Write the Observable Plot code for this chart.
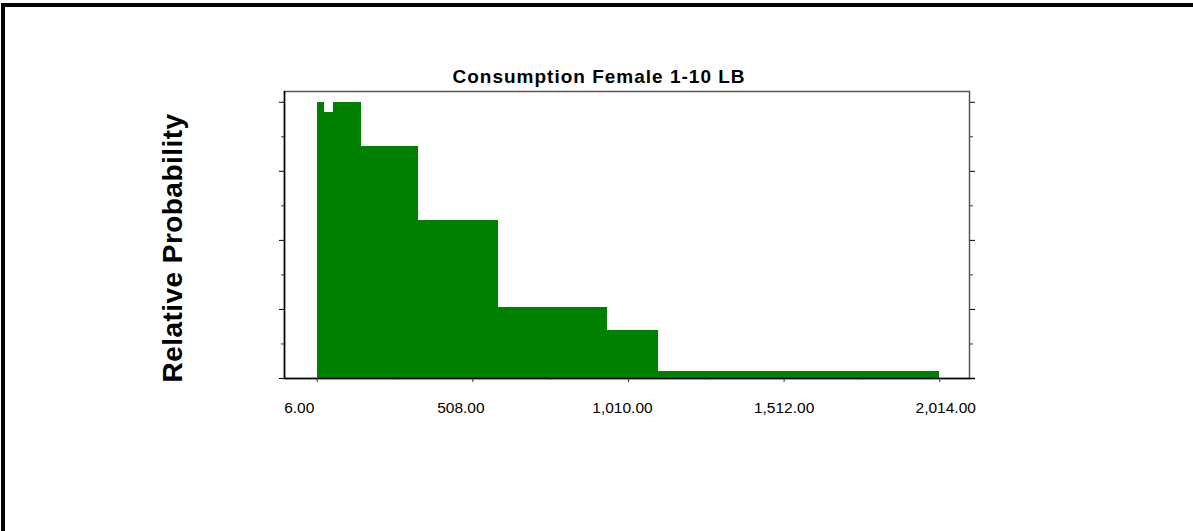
<!DOCTYPE html>
<html>
<head>
<meta charset="utf-8">
<script src="https://cdn.jsdelivr.net/npm/d3@7"></script>
<script src="https://cdn.jsdelivr.net/npm/@observablehq/plot@0.6"></script>
<style>
  html, body { margin: 0; padding: 0; background: #fff; overflow: hidden; }
  #wrap { position: relative; width: 1193px; height: 531px; }
  #border { position: absolute; top: 3px; left: 1px; width: 1300px; height: 700px;
            border-top: 4px solid #000; border-left: 4px solid #000; pointer-events: none; }
  #chart { position: absolute; top: 0; left: 0; }
</style>
</head>
<body>
<div id="wrap"><div id="chart"></div><div id="border"></div></div>
<script>
// ---- data ----
const title = "Consumption Female 1-10 LB";
const yLabel = "Relative Probability";
const binStart = [6, 30.5, 57.6, 148.8, 331.6, 591.5, 941, 1107];
const binEnd   = [30.5, 57.6, 148.8, 331.6, 591.5, 941, 1107, 2014];
const relProb  = [1.0, 0.964, 1.0, 0.839, 0.572, 0.258, 0.174, 0.0265];
const xTicks = [6, 508, 1010, 1512, 2014];
const xTickLabels = ["6.00", "508.00", "1,010.00", "1,512.00", "2,014.00"];
const xMinorTicks = [257, 759, 1261, 1763];
const yTicks = [0, 0.25, 0.5, 0.75, 1];
const yMinorTicks = [0.125, 0.375, 0.625, 0.875];

const bins = binStart.map((s, i) => ({x1: s, x2: binEnd[i], y: relProb[i]}));
const font = "'Liberation Sans', Arial, sans-serif";

const labelMarks = xTickLabels.map((lab, i) =>
  Plot.text([lab], {
    x: () => xTicks[i], y: () => 0,
    text: d => d, lineAnchor: "top", textAnchor: "middle",
    dy: 23, dx: (i - 3) * 6,
    fontSize: 15.5, fill: "#000", fontFamily: font
  })
);

const chart = Plot.plot({
  width: 1193,
  height: 531,
  marginLeft: 284,
  marginRight: 224,
  marginTop: 91,
  marginBottom: 153,
  style: {fontFamily: font, background: "transparent", overflow: "visible"},
  x: {domain: [-99.5, 2110]},
  y: {domain: [0, 1.039]},
  marks: [
    Plot.rectY(bins, {x1: "x1", x2: "x2", y: "y", fill: "#008000", inset: 0, shapeRendering: "crispEdges"}),
    Plot.frame({stroke: "#555", strokeWidth: 1.5}),
    Plot.ruleX([-99.5], {stroke: "#000", strokeWidth: 1.5}),
    Plot.ruleY([0], {stroke: "#000", strokeWidth: 1.5, x1: -99.5, x2: 2128}),
    Plot.axisX({ticks: xTicks, tickSize: 4, tickPadding: 0, text: null, label: null, stroke: "#333"}),
    Plot.axisX({ticks: xMinorTicks, tickSize: 2, text: null, label: null, stroke: "#555"}),
    Plot.axisY({anchor: "left", ticks: yTicks, tickSize: 5, text: null, label: null, stroke: "#000"}),
    Plot.axisY({anchor: "left", ticks: yMinorTicks, tickSize: 3, text: null, label: null, stroke: "#333"}),
    Plot.axisY({anchor: "right", ticks: yTicks, tickSize: 5, text: null, label: null, stroke: "#000"}),
    Plot.axisY({anchor: "right", ticks: yMinorTicks, tickSize: 3, text: null, label: null, stroke: "#333"}),
    ...labelMarks,
    Plot.text([title], {
      frameAnchor: "top", text: d => d, lineAnchor: "bottom", textAnchor: "middle",
      dx: -28, dy: -8.3, fontSize: 19, fontWeight: "bold", fill: "#000",
      fontFamily: font
    }),
    Plot.text([yLabel], {
      frameAnchor: "left", text: d => d, rotate: -90, lineAnchor: "bottom", textAnchor: "middle",
      dx: -103, dy: 13, fontSize: 28, fontWeight: "bold", fill: "#000", fontFamily: font
    })
  ]
});
d3.select(chart).selectAll("text").filter(function() { return this.textContent === title; })
  .style("letter-spacing", "1px");
d3.select(chart).selectAll("text").filter(function() { return this.textContent === yLabel; })
  .style("letter-spacing", "0.45px");
document.getElementById("chart").appendChild(chart);
</script>
</body>
</html>
